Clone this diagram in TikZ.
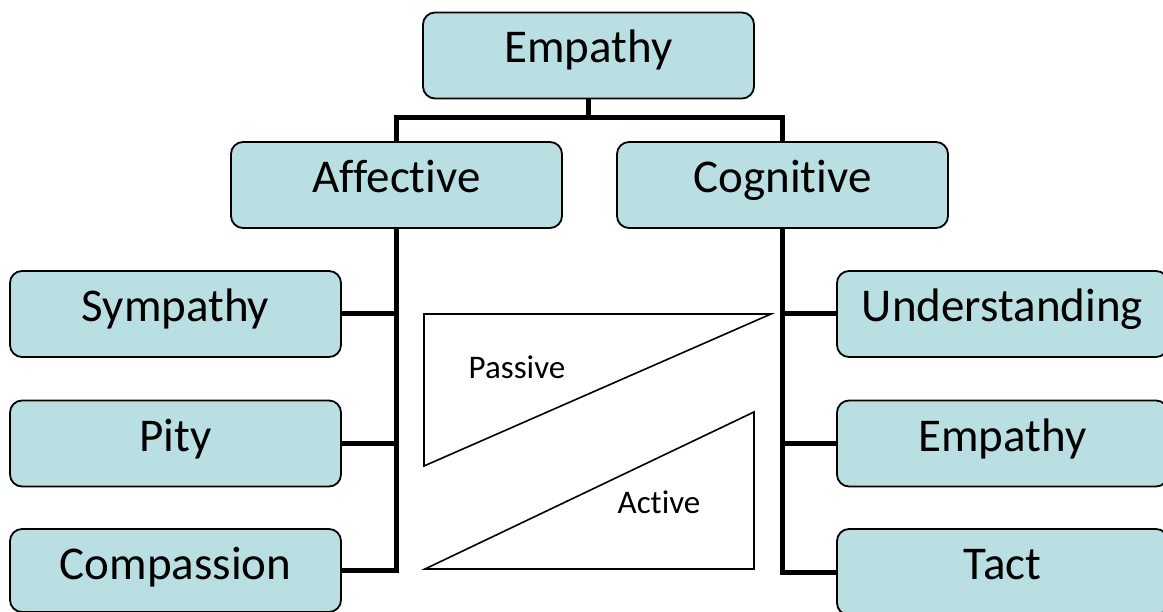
\documentclass[tikz,border=0pt]{standalone}
\usepackage{fontspec}
\setmainfont[Ligatures={NoCommon}]{Carlito}
\definecolor{boxfill}{RGB}{185,223,226}
\tikzset{
  box/.style={draw=black, line width=1.8pt, fill=boxfill, rounded corners=12pt,
    minimum width=331pt, minimum height=86pt, inner sep=0pt,
    text height=25pt, text depth=10pt, font=\fontsize{47}{56}\selectfont},
  link/.style={draw=black, line width=5pt},
  tri/.style={draw=black, line width=1.6pt, line join=miter},
  lbl/.style={inner sep=0pt, font=\fontsize{33}{40}\selectfont}
}
\begin{document}
\begin{tikzpicture}[x=1pt, y=-1pt]
\useasboundingbox (0,0) rectangle (1163,612);
% connectors
\coordinate (j) at (588.5,118);
\node[box] (emp) at (588.5,55.5) {Empathy};
\node[box] (aff) at (396.5,185) {Affective};
\node[box] (cog) at (782.5,185) {Cognitive};
\node[box] (sym) at (175.5,314) {Sympathy};
\node[box] (pity) at (175.5,443.5) {Pity};
\node[box, minimum height=83pt, text height=26.5pt, text depth=8.5pt] (comp) at (175.5,570.5) {Compassion};
\node[box] (und) at (1002.5,314) {Understanding};
\node[box] (emp2) at (1002.5,443.5) {Empathy};
\node[box] (tact) at (1002.5,572) {Tact};
\draw[link] (emp.south) -- (j);
\draw[link] (aff.north) |- (j) -| (cog.north);
\draw[link] (aff.south) |- (comp.east);
\draw[link] (sym.east) -- (sym.east -| aff.south);
\draw[link] (pity.east) -- (pity.east -| aff.south);
\draw[link] (cog.south) |- (tact.west);
\draw[link] (und.west) -- (und.west -| cog.south);
\draw[link] (emp2.west) -- (emp2.west -| cog.south);
% triangles
\coordinate (p1) at (424,314);
\coordinate (p2) at (771,314);
\coordinate (p3) at (424,466);
\draw[tri] (p1) -- (p2) -- (p3) -- cycle;
\coordinate (a1) at (425,569);
\coordinate (a2) at (754,412);
\coordinate (a3) at (754,569);
\draw[tri] (a1) -- (a2) -- (a3) -- cycle;
\node[lbl] (passive) at (517,367) {Passive};
\node[lbl] (active) at (659,502) {Active};
\end{tikzpicture}
\end{document}
